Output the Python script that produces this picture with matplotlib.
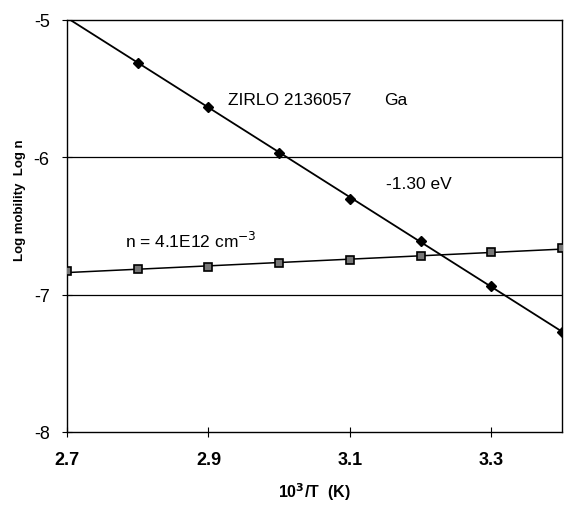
import numpy as np
import matplotlib
matplotlib.use("Agg")
import matplotlib.pyplot as plt

plt.rcParams["font.family"] = ["Liberation Sans", "DejaVu Sans"]

# mobility points (diamonds)
mob_x = [2.8, 2.9, 3.0, 3.1, 3.2, 3.3, 3.4]
mob_y = [-5.31, -5.63, -5.97, -6.30, -6.61, -6.94, -7.27]

# carrier density points (squares)
n_x = [2.7, 2.8, 2.9, 3.0, 3.1, 3.2, 3.3, 3.4]
n_y = [-6.83, -6.81, -6.80, -6.77, -6.75, -6.72, -6.69, -6.66]

xticks = [2.7, 2.9, 3.1, 3.3]
yticks = [-8, -7, -6, -5]

fig = plt.figure(figsize=(5.66, 5.06), dpi=100)
ax = fig.add_axes([0.1184, 0.1443, 0.8746, 0.8142])

xlim = (2.7, 3.4)
xs = np.array(xlim)

# linear trend lines, like the spreadsheet fit
p_mob = np.polyfit(mob_x, mob_y, 1)
p_n = np.polyfit(n_x, n_y, 1)
ax.plot(xs, np.polyval(p_mob, xs), color="black", lw=1.3, zorder=3)
ax.plot(xs, np.polyval(p_n, xs), color="black", lw=1.1, zorder=3)

ax.plot(mob_x, mob_y, ls="none", marker="D", ms=5, color="black", zorder=4)
ax.plot(n_x, n_y, ls="none", marker="s", ms=5.5, mfc="#777777",
        mec="black", mew=1.2, zorder=4)

for yv in [-7, -6]:
    ax.axhline(yv, color="black", lw=0.9, zorder=1)

ax.set_xlim(*xlim)
ax.set_ylim(-8, -5)
ax.set_xticks(xticks)
ax.set_xticklabels([f"{v:.1f}" for v in xticks], fontsize=13, fontweight="bold")
ax.set_yticks(yticks)
ax.set_yticklabels([str(v) for v in yticks], fontsize=13)
ax.tick_params(direction="inout", length=7, width=0.8)
ax.tick_params(axis="y", pad=9)
ax.tick_params(axis="x", pad=10)
for s in ax.spines.values():
    s.set_linewidth(1.0)

fig.text(0.555, 0.006, "10$^{\\mathbf{3}}$/T  (K)", fontsize=11.5,
         fontweight="bold", ha="center", va="bottom")
fig.text(0.036, 0.605, "Log mobility  Log n", fontsize=9.5, fontweight="bold",
         rotation=90, ha="center", va="center")

ax.text(2.928, -5.58, "ZIRLO 2136057", fontsize=12.5, va="center", ha="left")
ax.text(3.149, -5.58, "Ga", fontsize=12.5, va="center", ha="left")
ax.text(3.151, -6.19, "-1.30 eV", fontsize=12.5, va="center", ha="left")
ax.text(2.782, -6.60, "n = 4.1E12 cm$^{-3}$", fontsize=12.5, va="center", ha="left")

fig.savefig("out.png", dpi=100)
